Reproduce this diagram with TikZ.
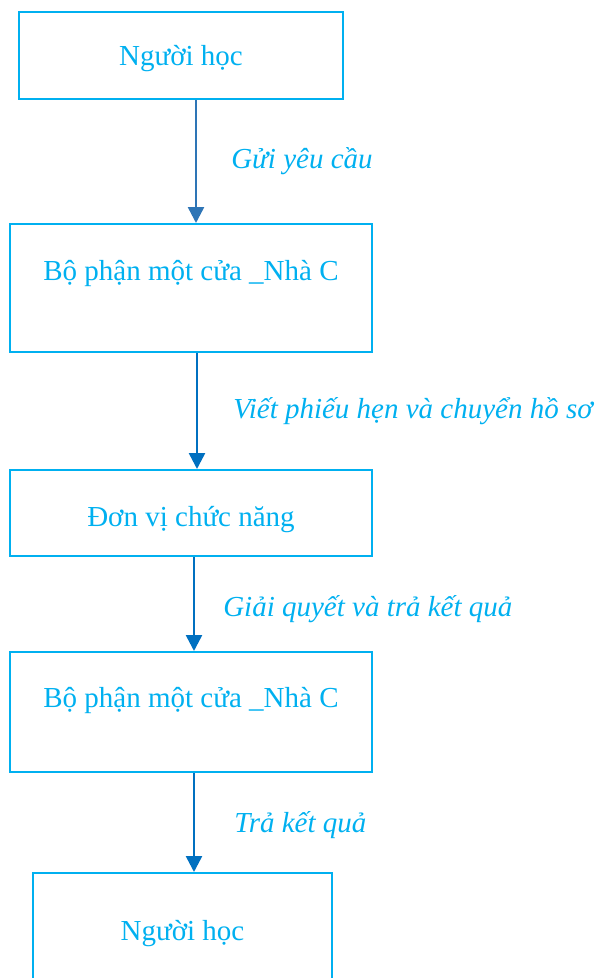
\documentclass[tikz,border=0pt]{standalone}
\usepackage{fontspec}
\setmainfont{Liberation Serif}
\usetikzlibrary{positioning,arrows.meta}
\definecolor{boxcyan}{RGB}{0,176,240}
\definecolor{arrblue}{RGB}{0,112,192}
\definecolor{arrsteel}{RGB}{46,117,182}

\begin{document}
\begin{tikzpicture}[x=1pt,y=-1pt,
  box/.style={draw=boxcyan,line width=2pt,text=boxcyan,font=\fontsize{29}{34}\selectfont,
    inner sep=0pt,text height=20pt,text depth=0pt},
  topbox/.style={box,text depth=36pt},
  lbl/.style={text=boxcyan,font=\fontsize{29}{34}\selectfont\itshape,inner sep=0pt},
  arr/.style={-{Triangle[length=16pt,width=16pt]},line width=2.5pt,color=arrblue}]
  \useasboundingbox (0,0) rectangle (603,978);
  \node[box,minimum width=324pt,minimum height=87pt] (hoc1) at (181,55.5) {Người học};
  \node[topbox,minimum width=362pt,minimum height=128pt] (mc1) at (191,288) {Bộ phận một cửa \_Nhà C};
  \node[box,text height=26pt,minimum width=362pt,minimum height=86pt] (dv) at (191,513) {Đơn vị chức năng};
  \node[topbox,text depth=30pt,minimum width=362pt,minimum height=120pt] (mc2) at (191,712) {Bộ phận một cửa \_Nhà C};
  \node[box,minimum width=299pt,minimum height=114pt] (hoc2) at (182.5,930) {Người học};
  \path[arr]
    ([xshift=15pt]hoc1.south) edge[color=arrsteel] node [lbl,right=34pt] {Gửi yêu cầu}
      ([xshift=15pt]hoc1.south |- mc1.north)
    ([xshift=6pt]mc1.south) edge node [lbl,right=35pt] {Viết phiếu hẹn và chuyển hồ sơ}
      ([xshift=6pt]mc1.south |- dv.north)
    ([xshift=3pt]dv.south) edge node [lbl,right=28pt,yshift=-5pt] {Giải quyết và trả kết quả}
      ([xshift=3pt]dv.south |- mc2.north)
    ([xshift=3pt]mc2.south) edge node [lbl,right=39pt,yshift=-3pt] {Trả kết quả}
      ([xshift=3pt]mc2.south |- hoc2.north);
\end{tikzpicture}
\end{document}
